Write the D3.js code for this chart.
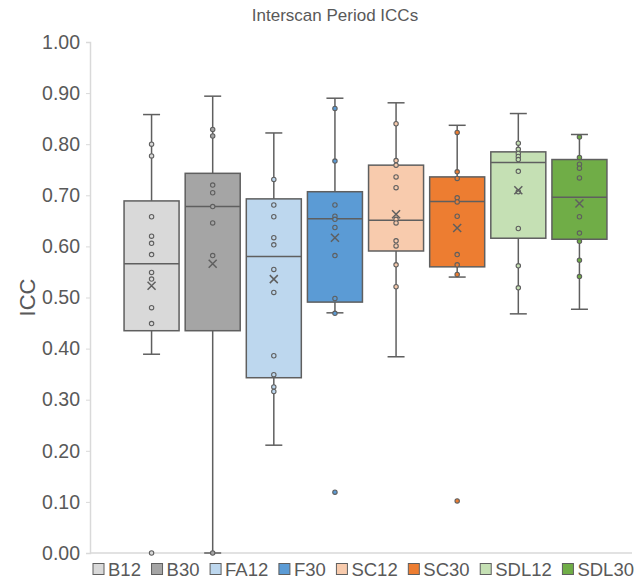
<!DOCTYPE html>
<html>
<head>
<meta charset="utf-8">
<script src="https://cdn.jsdelivr.net/npm/d3@7"></script>
<style>
	body { margin: 0; background: #fff; }
	svg { display: block; font-family: "Liberation Sans", Arial, sans-serif; }
</style>
</head>
<body>
<div id="graphicContainer"></div>
<script>
// values
var series = ["B12", "B30", "FA12", "F30", "SC12", "SC30", "SDL12", "SDL30"]
var colors = ["#d9d9d9", "#a5a5a5", "#bdd7ee", "#5b9bd5", "#f8cbad", "#ed7d31", "#c5e0b4", "#70ad47"]
var q1 = [0.435, 0.435, 0.343, 0.491, 0.591, 0.560, 0.616, 0.614]
var median = [0.566, 0.678, 0.580, 0.654, 0.651, 0.688, 0.764, 0.696]
var q3 = [0.689, 0.743, 0.693, 0.707, 0.759, 0.736, 0.785, 0.770]
var whiskerLow = [0.389, 0.000, 0.211, 0.470, 0.384, 0.540, 0.468, 0.477]
var whiskerHigh = [0.858, 0.894, 0.822, 0.890, 0.881, 0.837, 0.860, 0.819]
var means = [0.523, 0.566, 0.536, 0.617, 0.663, 0.636, 0.710, 0.684]
var points = [
	[0.800, 0.777, 0.658, 0.620, 0.606, 0.584, 0.549, 0.536, 0.480, 0.449],
	[0.829, 0.816, 0.720, 0.705, 0.678, 0.646, 0.582, 0.000],
	[0.731, 0.681, 0.658, 0.617, 0.603, 0.555, 0.510, 0.386, 0.349, 0.325, 0.316],
	[0.870, 0.767, 0.681, 0.659, 0.653, 0.637, 0.582, 0.498, 0.469],
	[0.840, 0.768, 0.759, 0.736, 0.715, 0.653, 0.646, 0.611, 0.601, 0.564, 0.521],
	[0.823, 0.746, 0.733, 0.695, 0.687, 0.659, 0.584, 0.564, 0.545],
	[0.802, 0.790, 0.782, 0.776, 0.770, 0.747, 0.707, 0.635, 0.562, 0.519],
	[0.814, 0.774, 0.761, 0.753, 0.734, 0.658, 0.626, 0.610, 0.573, 0.541]
]
var outliers = [[0.000], [], [], [0.119], [], [0.102], [], []]
var yTicks = [0, 0.1, 0.2, 0.3, 0.4, 0.5, 0.6, 0.7, 0.8, 0.9, 1.0]

var width = 639, height = 582
var lineCol = "#5f5f5f", textCol = "#595959", axisCol = "#d9d9d9"

var svg = d3.select("#graphicContainer").append("svg")
	.attr("width", width)
	.attr("height", height)

var y = d3.scaleLinear().domain([0, 1]).range([553, 42])
var x = d3.scaleBand().domain(series).range([121, 610]).paddingInner(0.1).paddingOuter(0.05)

svg.append("text")
	.attr("x", 335).attr("y", 21)
	.attr("text-anchor", "middle")
	.style("font-size", "17px")
	.style("fill", textCol)
	.text("Interscan Period ICCs")

var yAxis = svg.append("g")
	.attr("transform", "translate(90,0)")
	.call(d3.axisLeft(y).tickValues(yTicks).tickFormat(d3.format(".2f")).tickSize(4).tickPadding(6))

yAxis.select(".domain").attr("stroke", axisCol).attr("stroke-width", 1.5)
yAxis.selectAll(".tick line").attr("stroke", axisCol)
yAxis.selectAll(".tick text").style("font-size", "19.5px").style("fill", textCol)
	.style("font-family", "Liberation Sans, Arial, sans-serif")

svg.append("line")
	.attr("x1", 90).attr("x2", 632)
	.attr("y1", y(0)).attr("y2", y(0))
	.attr("stroke", axisCol).attr("stroke-width", 1.5)

svg.append("text")
	.attr("transform", "translate(35," + y(0.5) + ") rotate(-90)")
	.attr("text-anchor", "middle")
	.style("font-size", "22px")
	.style("fill", textCol)
	.text("ICC")

var bw = x.bandwidth()
var cap = 8.5

series.forEach(function(s, i) {
	var g = svg.append("g")
	var cx = x(s) + bw / 2

	g.append("line")
		.attr("x1", cx).attr("x2", cx)
		.attr("y1", y(whiskerHigh[i])).attr("y2", y(whiskerLow[i]))
		.attr("stroke", lineCol).attr("stroke-width", 1.5)

	;[whiskerHigh[i], whiskerLow[i]].forEach(function(v) {
		g.append("line")
			.attr("x1", cx - cap).attr("x2", cx + cap)
			.attr("y1", y(v)).attr("y2", y(v))
			.attr("stroke", lineCol).attr("stroke-width", 1.5)
	})

	g.append("rect")
		.attr("x", x(s))
		.attr("y", y(q3[i]))
		.attr("width", bw)
		.attr("height", y(q1[i]) - y(q3[i]))
		.attr("fill", colors[i])
		.attr("stroke", lineCol).attr("stroke-width", 1.5)

	g.append("line")
		.attr("x1", x(s)).attr("x2", x(s) + bw)
		.attr("y1", y(median[i])).attr("y2", y(median[i]))
		.attr("stroke", lineCol).attr("stroke-width", 1.5)

	g.selectAll(".pt")
		.data(points[i].concat(outliers[i]))
		.enter().append("circle")
		.attr("cx", cx)
		.attr("cy", function(d) { return y(d) })
		.attr("r", 2.2)
		.attr("fill", colors[i])
		.attr("stroke", lineCol).attr("stroke-width", 1.1)

	var my = y(means[i]), m = 4
	g.append("path")
		.attr("d", "M" + (cx - m) + "," + (my - m) + "L" + (cx + m) + "," + (my + m) +
			"M" + (cx + m) + "," + (my - m) + "L" + (cx - m) + "," + (my + m))
		.attr("stroke", lineCol).attr("stroke-width", 1.5)
})

// legend, spread between the left and right ends seen in the reference
var legend = svg.append("g").attr("transform", "translate(0,569)")
var sq = 11, pad = 4, legLeft = 93, legRight = 634
var items = series.map(function(s, i) {
	var it = legend.append("g")
	it.append("rect")
		.attr("x", 0).attr("y", -sq / 2)
		.attr("width", sq).attr("height", sq)
		.attr("fill", colors[i])
		.attr("stroke", lineCol).attr("stroke-width", 1)
	var t = it.append("text")
		.attr("x", sq + pad).attr("y", 6.5)
		.style("font-size", "18.5px")
		.style("fill", textCol)
		.text(s)
	return { g: it, w: sq + pad + t.node().getComputedTextLength() }
})
var totalW = d3.sum(items, function(d) { return d.w })
var gap = (legRight - legLeft - totalW) / (items.length - 1)
var lx = legLeft
items.forEach(function(d) {
	d.g.attr("transform", "translate(" + lx + ",0)")
	lx += d.w + gap
})
</script>
</body>
</html>
